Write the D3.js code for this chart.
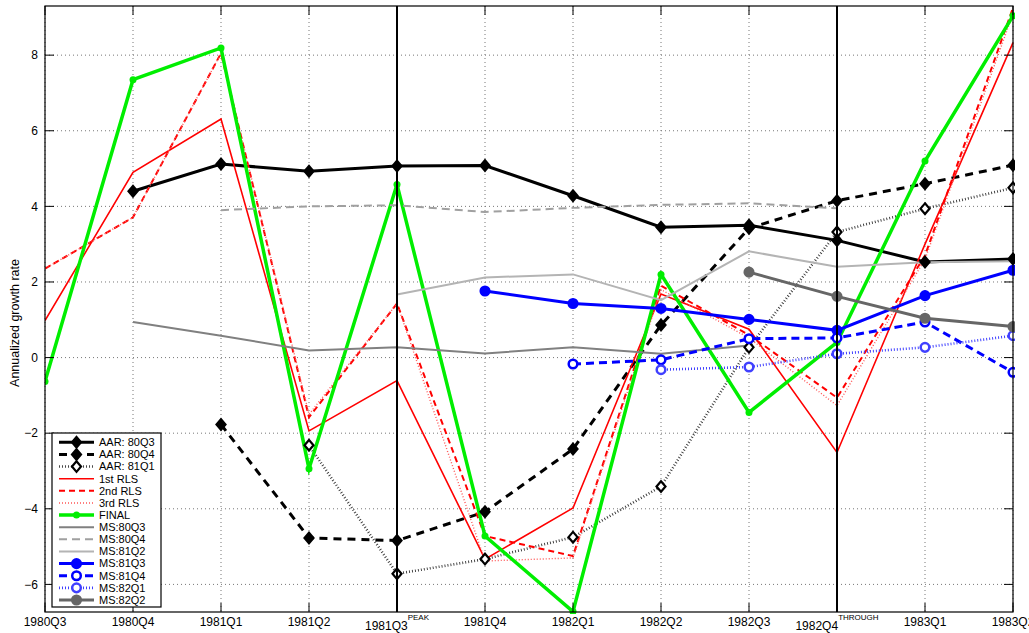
<!DOCTYPE html>
<html><head><meta charset="utf-8">
<script src="https://cdn.jsdelivr.net/npm/d3@7"></script>
<style>
html,body{margin:0;padding:0;background:#fff;}
svg{display:block;font-family:"Liberation Sans",Arial,Helvetica,sans-serif;}
</style></head>
<body><svg id="chart" width="1029" height="633"></svg>
<script>
// ---------- data ----------
const categories = ["1980Q3","1980Q4","1981Q1","1981Q2","1981Q3","1981Q4","1982Q1","1982Q2","1982Q3","1982Q4","1983Q1","1983Q2"];
const yTicks = [-6,-4,-2,0,2,4,6,8];
const seriesNames = ["AAR: 80Q3","AAR: 80Q4","AAR: 81Q1","1st RLS","2nd RLS","3rd RLS","FINAL","MS:80Q3","MS:80Q4","MS:81Q2","MS:81Q3","MS:81Q4","MS:82Q1","MS:82Q2"];
const aar80Q3 = [null, 4.40, 5.12, 4.93, 5.07, 5.08, 4.28, 3.45, 3.50, 3.10, 2.53, 2.61];
const aar80Q4 = [null, null, -1.77, -4.77, -4.84, -4.08, -2.42, 0.86, 3.42, 4.15, 4.60, 5.09];
const aar81Q1 = [null, null, null, -2.32, -5.72, -5.33, -4.75, -3.41, 0.27, 3.32, 3.94, 4.49];
const rls1st  = [0.98, 4.90, 6.31, -1.94, -0.61, -5.33, -3.98, 1.68, 0.75, -2.51, 3.00, 8.33];
const rls2nd  = [2.35, 3.71, 8.05, -1.58, 1.43, -4.72, -5.25, 1.90, 0.60, -1.06, 2.70, 9.25];
const rls3rd  = [2.35, 3.71, 8.05, -1.50, 1.43, -5.38, -5.30, 1.80, 0.52, -1.27, 2.60, 9.10];
const final   = [-0.63, 7.35, 8.19, -2.94, 4.58, -4.72, -6.72, 2.20, -1.45, 0.40, 5.20, 9.04];
const ms80Q3  = [null, 0.94, 0.58, 0.19, 0.27, 0.11, 0.27, 0.10, 0.32, null, null, null];
const ms80Q4  = [null, null, 3.90, 4.00, 4.03, 3.85, 3.96, 4.04, 4.08, 3.95, null, null];
const ms81Q2  = [null, null, null, null, 1.67, 2.12, 2.20, 1.52, 2.81, 2.40, 2.52, 2.55];
const ms81Q3  = [null, null, null, null, null, 1.76, 1.43, 1.30, 1.01, 0.72, 1.64, 2.31];
const ms81Q4  = [null, null, null, null, null, null, -0.17, -0.06, 0.50, 0.52, 0.94, -0.39];
const ms82Q1  = [null, null, null, null, null, null, null, -0.32, -0.25, 0.10, 0.27, 0.58];
const ms82Q2  = [null, null, null, null, null, null, null, null, 2.26, 1.62, 1.04, 0.82];
const markerLines = [{cat:"1981Q3", label:"PEAK"}, {cat:"1982Q4", label:"THROUGH"}];

const seriesValues = [aar80Q3, aar80Q4, aar81Q1, rls1st, rls2nd, rls3rd, final, ms80Q3, ms80Q4, ms81Q2, ms81Q3, ms81Q4, ms82Q1, ms82Q2];

// ---------- styles ----------
const styles = [
  {color:"#000", w:3, dash:null, marker:"diamond", fill:"#000"},
  {color:"#000", w:3, dash:"8,6", marker:"diamond", fill:"#000"},
  {color:"#333", w:2.6, dash:"0.9,2.1", marker:"diamond", fill:"#fff"},
  {color:"#f00", w:1.6, dash:null, marker:null},
  {color:"#f00", w:2, dash:"6,4", marker:null},
  {color:"#f55", w:1.4, dash:"1,2", marker:null},
  {color:"#00ee00", w:3.5, dash:null, marker:"dot", fill:"#00ee00"},
  {color:"#808080", w:2, dash:null, marker:null},
  {color:"#a0a0a0", w:2, dash:"8,5", marker:null},
  {color:"#b4b4b4", w:2, dash:null, marker:null},
  {color:"#0000ff", w:3, dash:null, marker:"circle", fill:"#0000ff"},
  {color:"#0000ff", w:3, dash:"8,5", marker:"circle", fill:"#fff"},
  {color:"#4040ff", w:2.6, dash:"1,2", marker:"circle", fill:"#fff"},
  {color:"#666666", w:3, dash:null, marker:"circle", fill:"#666666"}
];

const L = 45, R = 1013, T = 6, B = 612;
const svg = d3.select("#chart");
const x = d3.scalePoint().domain(categories).range([L, R]).padding(0);
const y = d3.scaleLinear().domain([-6.73, 9.3]).range([B, T]);

// grid
const grid = svg.append("g");
grid.selectAll("line.gx").data(categories).join("line")
  .attr("x1", d => x(d)).attr("x2", d => x(d)).attr("y1", T).attr("y2", B)
  .attr("stroke", "#777").attr("stroke-dasharray", "1,3").attr("stroke-width", 1);
grid.selectAll("line.gy").data(yTicks).join("line")
  .attr("x1", L).attr("x2", R).attr("y1", d => y(d)).attr("y2", d => y(d))
  .attr("stroke", "#777").attr("stroke-dasharray", "1,3").attr("stroke-width", 1);

// clip
svg.append("clipPath").attr("id", "clip").append("rect")
  .attr("x", L).attr("y", T - 2).attr("width", R - L + 2).attr("height", B - T + 4);
const plot = svg.append("g").attr("clip-path", "url(#clip)");

const line = d3.line().defined(d => d.v !== null).x(d => x(d.c)).y(d => y(d.v));
const diamondPath = "M0,-5.3L4.5,0L0,5.3L-4.5,0Z";

function drawMarker(g, st, cx, cy) {
  if (st.marker === "diamond") {
    g.append("path").attr("d", diamondPath).attr("transform", `translate(${cx},${cy})`)
      .attr("fill", st.fill).attr("stroke", "#000").attr("stroke-width", 2.2).attr("stroke-linejoin", "miter");
  } else if (st.marker === "dot") {
    g.append("circle").attr("cx", cx).attr("cy", cy).attr("r", 3.5).attr("fill", st.fill);
  } else if (st.marker === "circle") {
    g.append("circle").attr("cx", cx).attr("cy", cy).attr("r", 4.3)
      .attr("fill", st.fill).attr("stroke", st.color).attr("stroke-width", 2.5);
  }
}

seriesValues.forEach((vals, i) => {
  const st = styles[i];
  const pts = categories.map((c, j) => ({c, v: vals[j]}));
  plot.append("path").datum(pts).attr("d", line)
    .attr("fill", "none").attr("stroke", st.color).attr("stroke-width", st.w)
    .attr("stroke-dasharray", st.dash).attr("stroke-linejoin", "miter");
});

// markers on top
seriesValues.forEach((vals, i) => {
  const st = styles[i];
  if (!st.marker) return;
  const g = plot.append("g");
  categories.forEach((c, j) => {
    if (vals[j] !== null) drawMarker(g, st, x(c), y(vals[j]));
  });
});

// vertical peak/through lines
svg.selectAll("line.vl").data(markerLines).join("line")
  .attr("x1", d => x(d.cat)).attr("x2", d => x(d.cat)).attr("y1", T).attr("y2", B)
  .attr("stroke", "#000").attr("stroke-width", 2);

// frame
svg.append("rect").attr("x", L).attr("y", T).attr("width", R - L).attr("height", B - T)
  .attr("fill", "none").attr("stroke", "#000").attr("stroke-width", 1.2);

// ticks (inward)
const tl = 9;
const tk = svg.append("g").attr("stroke", "#000").attr("stroke-width", 1);
categories.forEach(c => {
  tk.append("line").attr("x1", x(c)).attr("x2", x(c)).attr("y1", B).attr("y2", B - tl);
  tk.append("line").attr("x1", x(c)).attr("x2", x(c)).attr("y1", T).attr("y2", T + tl);
});
yTicks.forEach(v => {
  tk.append("line").attr("x1", L).attr("x2", L + tl).attr("y1", y(v)).attr("y2", y(v));
  tk.append("line").attr("x1", R).attr("x2", R - tl).attr("y1", y(v)).attr("y2", y(v));
});

// y tick labels
svg.append("g").selectAll("text").data(yTicks).join("text")
  .attr("x", L - 7).attr("y", d => y(d)).attr("dy", "0.35em")
  .attr("text-anchor", "end").attr("font-size", 12)
  .text(d => d < 0 ? "\u2212" + Math.abs(d) : d);

// x tick labels
const special = new Map(markerLines.map(m => [m.cat, m.label]));
categories.forEach(c => {
  const t = svg.append("text").attr("x", x(c)).attr("text-anchor", "middle").attr("font-size", 12);
  if (special.has(c)) {
    t.attr("y", 630);
    t.append("tspan").text(c);
    t.append("tspan").attr("font-size", 8).attr("dy", -10).text(special.get(c));
  } else {
    t.attr("y", 626).text(c);
  }
});

// y label
svg.append("text").attr("transform", "translate(19,323) rotate(-90)")
  .attr("text-anchor", "middle").attr("font-size", 12.5).text("Annualized growth rate");

// legend
const lg = svg.append("g");
lg.append("rect").attr("x", 52).attr("y", 433).attr("width", 109).attr("height", 174)
  .attr("fill", "#fff").attr("stroke", "#000").attr("stroke-width", 1.2);
seriesNames.forEach((name, i) => {
  const st = styles[i];
  const yy = 442.3 + i * 12.13;
  lg.append("line").attr("x1", 59).attr("x2", 94).attr("y1", yy).attr("y2", yy)
    .attr("stroke", st.color).attr("stroke-width", st.w).attr("stroke-dasharray", st.dash);
  drawMarker(lg, st, 76.5, yy);
  lg.append("text").attr("x", 99).attr("y", yy).attr("dy", "0.35em")
    .attr("font-size", 11).text(name);
});
</script></body></html>
